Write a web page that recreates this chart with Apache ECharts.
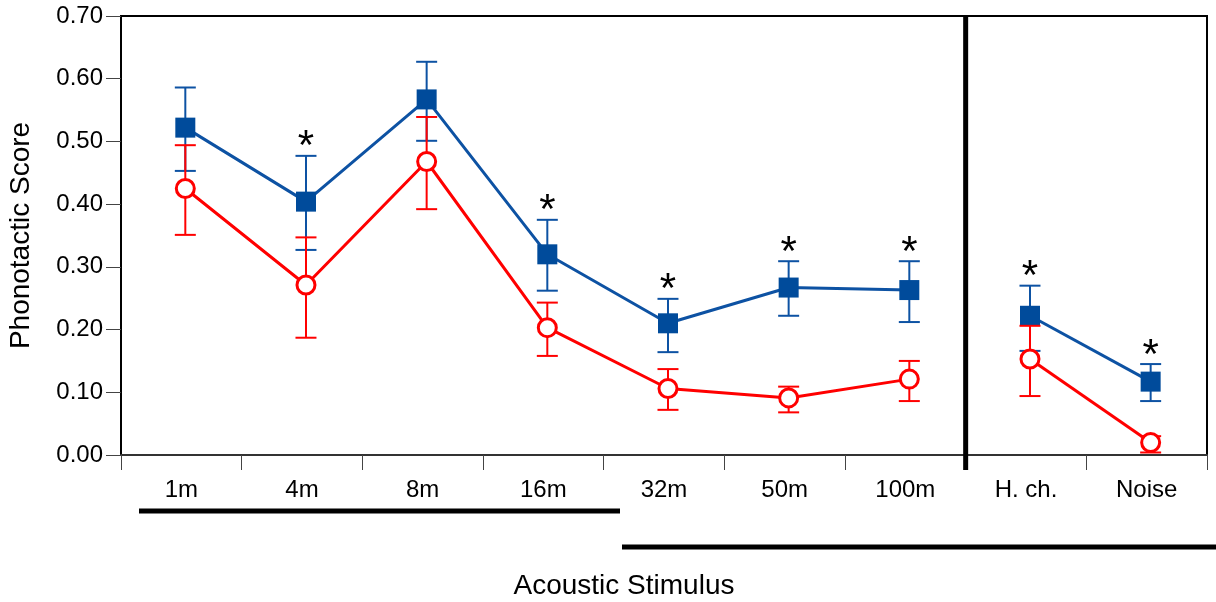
<!DOCTYPE html>
<html>
<head>
<meta charset="utf-8">
<script src="https://cdn.jsdelivr.net/npm/echarts@6/dist/echarts.min.js"></script>
<style>
html,body{margin:0;padding:0;background:#fff;}
#chart{width:1216px;height:602px;}
</style>
</head>
<body>
<div id="chart"></div>
<script>
const categories = ['1m', '4m', '8m', '16m', '32m', '50m', '100m', 'H. ch.', 'Noise'];
const blueMean  = [0.522, 0.404, 0.567, 0.320, 0.210, 0.267, 0.263, 0.222, 0.117];
const blueUpper = [0.586, 0.477, 0.627, 0.375, 0.249, 0.309, 0.309, 0.270, 0.145];
const blueLower = [0.453, 0.327, 0.501, 0.262, 0.164, 0.222, 0.212, 0.166, 0.086];
const redMean   = [0.425, 0.271, 0.468, 0.203, 0.106, 0.091, 0.121, 0.153, 0.020];
const redUpper  = [0.494, 0.347, 0.539, 0.243, 0.137, 0.109, 0.150, 0.206, 0.030];
const redLower  = [0.351, 0.187, 0.392, 0.158, 0.072, 0.068, 0.086, 0.094, 0.004];
const significant = [0, 1, 0, 1, 1, 1, 1, 1, 1];
const groupBreakAfter = 6; // divider between '100m' and 'H. ch.'

const BLUE = '#004B9B';
const BLUE_LINE = '#0D52A3';
const RED = '#FF0000';
const FONT = 'Liberation Sans, Arial, sans-serif';
const MARK_SHIFT = 0.033; // markers sit slightly right of category centres

function segment(values, first) {
  return values.map((v, i) => [i, (first ? i <= groupBreakAfter : i > groupBreakAfter) ? v : '-']);
}
function errData(lower, upper, sig) {
  return categories.map((c, i) => [i, lower[i], upper[i], sig ? sig[i] : 0]);
}

function errRender(color) {
  return function (params, api) {
    const i = api.value(0);
    const lo = api.coord([i, api.value(1)]);
    const hi = api.coord([i, api.value(2)]);
    const w = 10.5;
    const children = [
      {type: 'line', shape: {x1: lo[0], y1: lo[1], x2: hi[0], y2: hi[1]}, style: {stroke: color, lineWidth: 2}},
      {type: 'line', shape: {x1: lo[0] - w, y1: lo[1], x2: lo[0] + w, y2: lo[1]}, style: {stroke: color, lineWidth: 2}},
      {type: 'line', shape: {x1: hi[0] - w, y1: hi[1], x2: hi[0] + w, y2: hi[1]}, style: {stroke: color, lineWidth: 2}}
    ];
    if (api.value(3)) {
      children.push({
        type: 'text',
        style: {text: '*', x: hi[0], y: hi[1] - 8, align: 'center', verticalAlign: 'middle',
                fontSize: 42, fontFamily: FONT, fill: '#000'}
      });
    }
    return {type: 'group', children};
  };
}

function lineSeries(name, data, color, lineColor, isBlue, z) {
  return {
    type: 'line', name: name, z: z, silent: true, xAxisIndex: 1,
    data: data, connectNulls: false,
    symbol: isBlue ? 'rect' : 'circle', symbolSize: isBlue ? 20 : 18,
    itemStyle: isBlue ? {color: color} : {color: '#fff', borderColor: color, borderWidth: 3},
    lineStyle: {color: lineColor, width: 3}
  };
}

const chart = echarts.init(document.getElementById('chart'), null, {renderer: 'canvas'});
chart.setOption({
  animation: false,
  backgroundColor: '#fff',
  textStyle: {fontFamily: FONT},
  grid: {left: 121, right: 9, top: 16, bottom: 147, show: true, borderColor: '#000', borderWidth: 2,
         containLabel: false, outerBoundsMode: 'none'},
  xAxis: [{
    type: 'category',
    data: categories,
    boundaryGap: true,
    name: 'Acoustic Stimulus',
    nameLocation: 'middle',
    nameGap: 117,
    nameTextStyle: {fontSize: 28, color: '#000', fontFamily: FONT, padding: [0, 80, 0, 0]},
    axisLine: {onZero: false, lineStyle: {color: '#333', width: 2}},
    axisTick: {show: true, length: 15, lineStyle: {color: '#444', width: 1}},
    axisLabel: {fontSize: 24, color: '#000', margin: 23, fontFamily: FONT},
    splitLine: {show: false}
  }, {
    type: 'value', show: false, gridIndex: 0,
    min: -0.5 - MARK_SHIFT, max: categories.length - 0.5 - MARK_SHIFT,
    axisLine: {onZero: false},
    splitLine: {show: false}
  }],
  yAxis: {
    type: 'value',
    min: 0, max: 0.7, interval: 0.1,
    name: 'Phonotactic Score',
    nameLocation: 'middle',
    nameGap: 86,
    nameTextStyle: {fontSize: 28, color: '#000', fontFamily: FONT},
    axisLine: {show: true, onZero: false, lineStyle: {color: '#000', width: 2}},
    axisTick: {show: true, length: 15, lineStyle: {color: '#444', width: 1}},
    axisLabel: {fontSize: 24, color: '#000', margin: 18, fontFamily: FONT,
                formatter: v => v.toFixed(2)},
    splitLine: {show: false}
  },
  series: [
    {
      type: 'custom', name: 'blueErr', z: 2, silent: true, xAxisIndex: 1,
      data: errData(blueLower, blueUpper, significant),
      encode: {x: 0, y: [1, 2]},
      renderItem: errRender(BLUE_LINE)
    },
    lineSeries('blue', segment(blueMean, true), BLUE, BLUE_LINE, true, 3),
    lineSeries('blue2', segment(blueMean, false), BLUE, BLUE_LINE, true, 3),
    {
      type: 'custom', name: 'redErr', z: 4, silent: true, xAxisIndex: 1,
      data: errData(redLower, redUpper, null),
      encode: {x: 0, y: [1, 2]},
      renderItem: errRender(RED)
    },
    lineSeries('red', segment(redMean, true), RED, RED, false, 5),
    lineSeries('red2', segment(redMean, false), RED, RED, false, 5),
    {
      type: 'custom', name: 'divider', z: 6, silent: true, xAxisIndex: 0,
      data: [[groupBreakAfter, 0.7]],
      encode: {x: 0, y: 1},
      renderItem: function (params, api) {
        const i = api.value(0);
        const a = api.coord([i, api.value(1)]);
        const b = api.coord([i + 1, 0]);
        const x = (a[0] + b[0]) / 2;
        return {type: 'line', shape: {x1: x, y1: a[1], x2: x, y2: b[1] + 15},
                style: {stroke: '#000', lineWidth: 5}};
      }
    }
  ],
  graphic: [
    {type: 'rect', shape: {x: 139, y: 508.5, width: 481, height: 5}, style: {fill: '#000'}, silent: true},
    {type: 'rect', shape: {x: 622, y: 544.5, width: 594, height: 5}, style: {fill: '#000'}, silent: true}
  ]
});
</script>
</body>
</html>
